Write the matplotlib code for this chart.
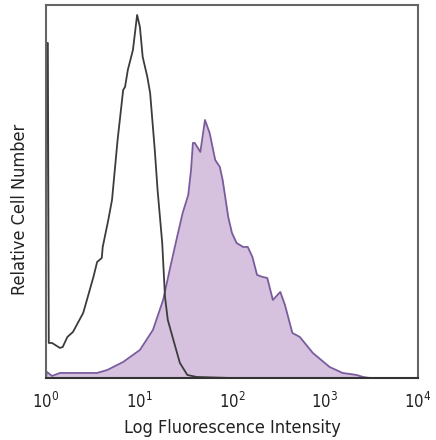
import numpy as np
import matplotlib
matplotlib.use("Agg")
import matplotlib.pyplot as plt

# isotype control (black outline), x in log10 decades, y in relative counts
ctrl_log = [0.0, 0.005, 0.02, 0.03, 0.065, 0.15, 0.18, 0.23, 0.29, 0.40, 0.44,
            0.51, 0.55, 0.60, 0.61, 0.67, 0.71, 0.72, 0.77, 0.83, 0.85, 0.88,
            0.935, 0.98, 1.01, 1.04, 1.09, 1.12, 1.17, 1.20, 1.25, 1.28, 1.31,
            1.37, 1.44, 1.52, 1.62, 1.98, 4.0]
ctrl_cnt = [0, 335, 335, 35, 35, 30, 31, 41, 46, 65, 78,
            101, 116, 120, 131, 158, 178, 188, 238, 288, 291, 308,
            328, 363, 351, 321, 301, 285, 228, 188, 135, 81, 58,
            38, 15, 3, 1, 0, 0]

# stained sample (purple filled)
stain_log = [0.0, 0.01, 0.065, 0.15, 0.55, 0.66, 0.83, 1.01, 1.15, 1.26, 1.33,
             1.41, 1.47, 1.53, 1.56, 1.58, 1.60, 1.66, 1.71, 1.76, 1.82, 1.87,
             1.90, 1.96, 2.00, 2.05, 2.12, 2.17, 2.22, 2.27, 2.33, 2.38, 2.44,
             2.52, 2.57, 2.65, 2.73, 2.87, 3.05, 3.19, 3.34, 3.41, 3.48]
stain_cnt = [0, 6, 2, 5, 5, 8, 16, 28, 48, 78, 108,
             141, 165, 183, 208, 235, 235, 226, 258, 245, 218, 211,
             198, 161, 145, 135, 131, 131, 121, 103, 101, 100, 78,
             86, 73, 45, 41, 25, 11, 5, 3, 1, 0]

tick_vals = [1, 10, 100, 1000, 10000]
tick_labels = [r"$10^{0}$", r"$10^{1}$", r"$10^{2}$", r"$10^{3}$", r"$10^{4}$"]

plt.rcParams['font.family'] = ['DejaVu Sans']
plt.rcParams['font.stretch'] = 'condensed'
plt.rcParams['mathtext.fontset'] = 'dejavusans'

fig = plt.figure(figsize=(4.36, 4.40), dpi=100)
ax = fig.add_axes([0.1055, 0.141, 0.853, 0.8477])

sx = 10 ** np.array(stain_log)
cx = 10 ** np.array(ctrl_log)
ax.fill_between(sx, stain_cnt, color="#d6c2de", linewidth=0)
ax.plot(sx, stain_cnt, color="#7a5c9e", linewidth=1.3)
ax.plot(cx, ctrl_cnt, color="#3c3c3c", linewidth=1.3)

ax.set_xscale("log")
ax.set_xlim(1, 10000)
ax.set_ylim(0, 373)
ax.set_yticks([])
ax.set_xticks(tick_vals)
ax.set_xticklabels(tick_labels)
ax.xaxis.set_minor_locator(matplotlib.ticker.NullLocator())
ax.tick_params(axis="x", length=0, pad=10, labelsize=12, labelcolor="#222222")

for s in ax.spines.values():
    s.set_color("#666666")
    s.set_linewidth(1.5)
ax.spines["bottom"].set_color("#333333")

ax.set_xlabel("Log Fluorescence Intensity", fontsize=13, color="#222222", labelpad=5)
ax.set_ylabel("Relative Cell Number", fontsize=13, color="#222222")
ax.yaxis.set_label_coords(-0.045, 0.453)

fig.savefig("out.png", dpi=100)
